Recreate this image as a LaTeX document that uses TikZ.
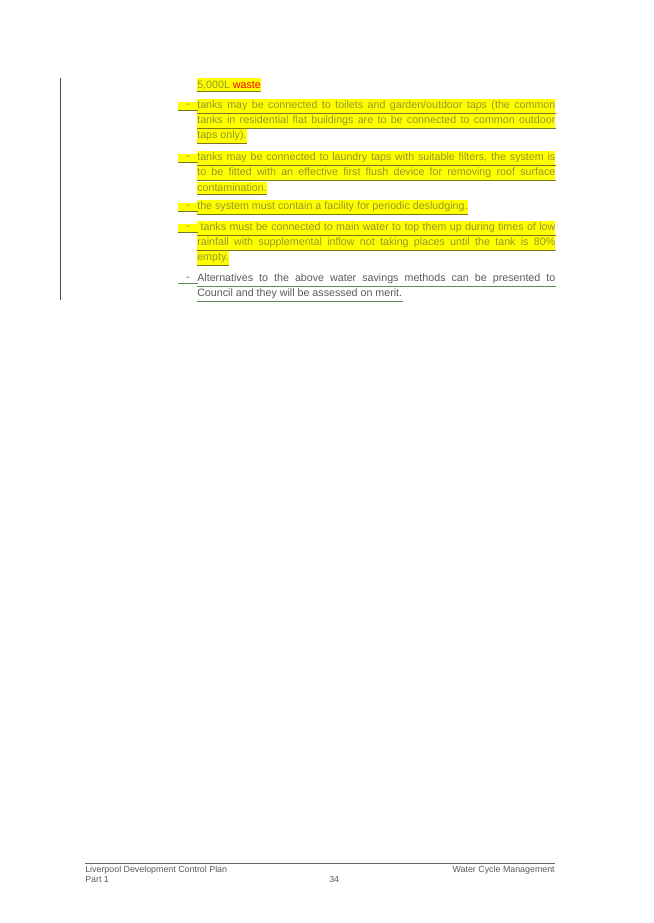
\documentclass[tikz,border=0pt]{standalone}
\usepackage{fontspec}
\setmainfont{Liberation Sans}
\usepackage{xcolor}
\definecolor{olivetext}{RGB}{150,150,40}
\definecolor{hlyellow}{RGB}{255,255,0}
\definecolor{ulgreen}{RGB}{90,140,90}
\definecolor{graytext}{RGB}{90,90,90}
\newcommand{\jline}[1]{\hbox to 8.95cm{\spaceskip=0.28em plus 2em #1}}

\begin{document}
\begin{tikzpicture}[x=0.025cm,y=-0.025cm,
        hl line/.style={anchor=west,fill=hlyellow,inner xsep=0pt,inner ysep=1.5pt,
          text=olivetext,font=\fontsize{7.6}{9}\selectfont},
        plain line/.style={anchor=west,inner xsep=0pt,inner ysep=1.5pt,
          text=graytext,font=\fontsize{7.6}{9}\selectfont},
        under/.style={draw=olivetext!80!black,line width=0.5pt},
        foot/.style={anchor=west,inner sep=0pt,text=graytext,font=\fontsize{6.3}{7}\selectfont}
      ]
      \useasboundingbox (0,0) rectangle (653,923);
      % margin bar
      \draw[black!70,line width=0.6pt] (60,78) -- (60,300);

      % highlighted lines
      \node[hl line] (l0) at (197,85) {5,000L \textcolor{red}{waste}};
      \node[hl line] (l1) at (197,106) {\jline{tanks may be connected to toilets and garden/outdoor taps (the common}};
      \node[hl line] (l2) at (197,121) {\jline{tanks in residential flat buildings are to be connected to common outdoor}};
      \node[hl line] (l3) at (197,136) {taps only).};
      \node[hl line] (l4) at (197,158) {\jline{tanks may be connected to laundry taps with suitable filters, the system is}};
      \node[hl line] (l5) at (197,173) {\jline{to be fitted with an effective first flush device for removing roof surface}};
      \node[hl line] (l6) at (197,188) {contamination.};
      \node[hl line] (l7) at (197,207) {the system must contain a facility for periodic desludging.};
      \node[hl line] (l8) at (197,228) {\jline{\ tanks must be connected to main water to top them up during times of low}};
      \node[hl line] (l9) at (197,243) {\jline{rainfall with supplemental inflow not taking places until the tank is 80\%}};
      \node[hl line] (l10) at (197,258) {empty.};
      \node[plain line] (l11) at (197,279) {\jline{Alternatives to the above water savings methods can be presented to}};
      \node[plain line] (l12) at (197,294) {Council and they will be assessed on merit.};

      % dashes in front of items
      \foreach \y/\n in {106/d1,158/d2,207/d3,228/d4} {
        \node[hl line,minimum width=0.475cm,align=left] (\n) at (178,\y) {-\hfill};
        \draw[under] (\n.south west) -- (\n.south east);
      }
      \node[plain line,minimum width=0.475cm] (d5) at (178,279) {-\hfill};
      \draw[ulgreen,line width=0.5pt] (d5.south west) -- (d5.south east);

      % underlines
      \foreach \n in {l0,l1,l2,l3,l4,l5,l6,l7,l8,l9,l10}
        \draw[under] (\n.south west) -- (\n.south east);
      \foreach \n in {l11,l12}
        \draw[ulgreen,line width=0.5pt] (\n.south west) -- (\n.south east);

      % footer
      \draw[black!60,line width=0.4pt] (85,863) -- (555,863);
      \node[foot] (f1) at (85,870) {Liverpool Development Control Plan};
      \node[foot] (f2) at (85,879) {Part 1};
      \node[foot] (f3) at (329,879) {34};
      \node[foot,anchor=east] (f4) at (555,870) {Water Cycle Management};
    \end{tikzpicture}
\end{document}
